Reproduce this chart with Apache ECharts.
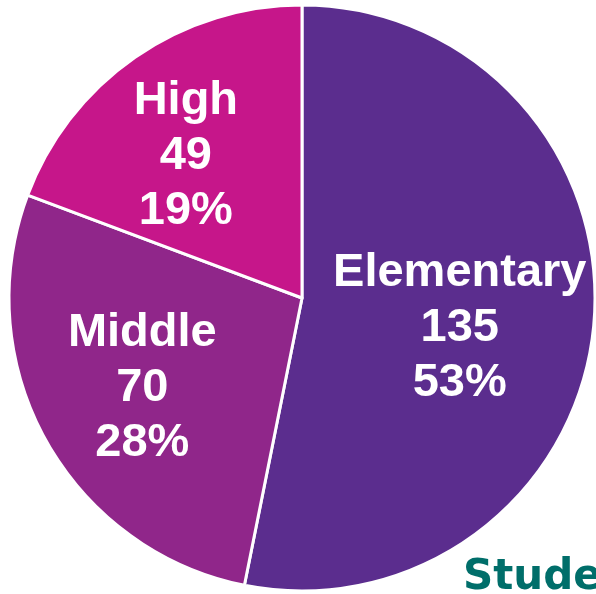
<!DOCTYPE html>
<html>
<head>
<meta charset="utf-8">
<style>html,body{margin:0;padding:0;background:#fff;}#c{width:596px;height:594px;}</style>
<script src="https://cdn.jsdelivr.net/npm/echarts@6/dist/echarts.min.js"></script>
</head>
<body>
<div id="c"></div>
<script>
const categories = ['Elementary', 'Middle', 'High'];
const values = [135, 70, 49];
const colors = ['#5B2D8E', '#90268A', '#C6168A'];
const labelOffsets = [[9, 15], [-29, 17], [-31, -19]];

const chart = echarts.init(document.getElementById('c'));
chart.setOption({
  animation: false,
  title: {
    text: 'Students',
    left: 458,
    top: 552,
    textStyle: { fontFamily: 'DejaVu Sans', fontWeight: 'bold', fontSize: 42, color: '#006E6A' }
  },
  series: [{
    type: 'pie',
    center: [302, 298],
    radius: [0, 293],
    startAngle: 90,
    clockwise: true,
    percentPrecision: 0,
    itemStyle: { borderColor: '#fff', borderWidth: 3 },
    label: {
      show: true,
      position: 'inside',
      formatter: '{b}\n{c}\n{d}%',
      color: '#fff',
      fontFamily: 'Liberation Sans, Arial, sans-serif',
      fontWeight: 'bold',
      fontSize: 47,
      lineHeight: 55,
      align: 'center'
    },
    labelLine: { show: false },
    emphasis: { disabled: true },
    data: categories.map((n, i) => ({
      name: n,
      value: values[i],
      itemStyle: { color: colors[i] },
      label: { offset: labelOffsets[i] }
    }))
  }]
});
</script>
</body>
</html>
